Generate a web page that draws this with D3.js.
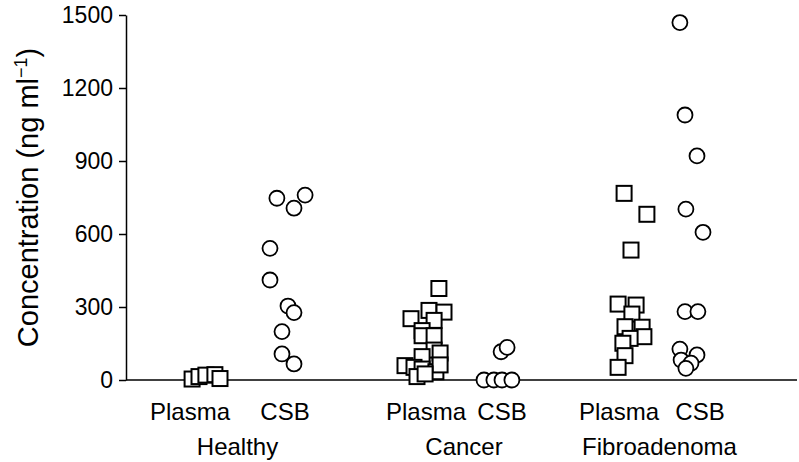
<!DOCTYPE html>
<html>
<head>
<meta charset="utf-8">
<script src="https://cdn.jsdelivr.net/npm/d3@7"></script>
<style>
  html, body { margin: 0; padding: 0; background: #fff; }
  svg { display: block; }
  text { font-family: "Liberation Sans", Arial, Helvetica, sans-serif; fill: #000; }
</style>
</head>
<body>
<svg id="chart" width="799" height="462"></svg>
<script>
// ---------- DATA ----------
const groups = ["Healthy", "Cancer", "Fibroadenoma"];
const sampleTypes = ["Plasma", "CSB"];
const yTicks = [0, 300, 600, 900, 1200, 1500];

// values (ng/ml) and horizontal jitter (in jitter units, -1..1)
const healthyPlasma       = [4, 14, 20, 22, 6];
const healthyPlasmaJitter = [0.07, 0.3, 0.53, 0.83, 1.0];

const healthyCSB       = [747, 760, 706, 541, 411, 304, 277, 199, 107, 66];
const healthyCSBJitter = [-0.27, 0.67, 0.3, -0.5, -0.5, 0.1, 0.3, -0.1, -0.1, 0.3];

const cancerPlasma       = [376, 252, 286, 279, 245, 203, 182, 182, 123, 111, 96, 59, 52, 45, 34, 62, 14, 25];
const cancerPlasmaJitter = [0.43, -0.5, 0.1, 0.6, 0.27, -0.13, -0.13, 0.27, 0.27, 0.47, -0.13, -0.7, -0.4, -0.13, 0.33, 0.47, -0.3, -0.03];

const cancerCSB       = [0, 0, 0, 0, 116, 134];
const cancerCSBJitter = [-0.6, -0.27, 0, 0.33, -0.03, 0.17];

const fibroPlasma       = [767, 681, 534, 312, 308, 271, 219, 217, 178, 171, 151, 100, 52];
const fibroPlasmaJitter = [0.17, 0.93, 0.4, -0.03, 0.57, 0.43, 0.2, 0.77, 0.83, 0.37, 0.13, 0.2, -0.03];

const fibroCSB       = [1469, 1089, 921, 702, 607, 281, 281, 127, 103, 82, 69, 48];
const fibroCSBJitter = [-0.67, -0.5, -0.1, -0.47, 0.1, -0.5, -0.07, -0.67, -0.1, -0.63, -0.3, -0.47];

// ---------- BUILD TABLE ----------
const seriesTable = [
  { group: "Healthy", type: "Plasma", values: healthyPlasma, jitter: healthyPlasmaJitter },
  { group: "Healthy", type: "CSB", values: healthyCSB, jitter: healthyCSBJitter },
  { group: "Cancer", type: "Plasma", values: cancerPlasma, jitter: cancerPlasmaJitter },
  { group: "Cancer", type: "CSB", values: cancerCSB, jitter: cancerCSBJitter },
  { group: "Fibroadenoma", type: "Plasma", values: fibroPlasma, jitter: fibroPlasmaJitter },
  { group: "Fibroadenoma", type: "CSB", values: fibroCSB, jitter: fibroCSBJitter }
];
const subKeys = seriesTable.map(s => s.group + "|" + s.type);
const points = [];
seriesTable.forEach(s => s.values.forEach((v, i) => points.push({ key: s.group + "|" + s.type, type: s.type, value: v, jitter: s.jitter[i] })));

// ---------- LAYOUT ----------
const svg = d3.select("#chart");
const axisX = 126, rightX = 797, y0 = 380, yTop = 15;

const y = d3.scaleLinear().domain([0, 1500]).range([y0, yTop]);
const xSub = d3.scaleOrdinal().domain(subKeys).range([190, 285, 426, 502, 619, 700]);
const xJit = d3.scaleLinear().domain([-1, 1]).range([-30, 30]);

// y axis
const yAxis = d3.axisLeft(y).tickValues(yTicks).tickFormat(d3.format("d"))
  .tickSize(7).tickPadding(6).tickSizeOuter(0);
const gy = svg.append("g").attr("transform", `translate(${axisX},0)`).call(yAxis);
gy.select(".domain").attr("stroke", "#000").attr("stroke-width", 1.5);
gy.selectAll(".tick line").attr("stroke", "#000").attr("stroke-width", 1.5);
gy.selectAll(".tick text").attr("font-size", 23).attr("font-family", "Liberation Sans, Arial, sans-serif").attr("fill", "#000");

// baseline
svg.append("line")
  .attr("x1", axisX).attr("x2", rightX)
  .attr("y1", y(0)).attr("y2", y(0))
  .attr("stroke", "#000").attr("stroke-width", 1.5);

// y label
const yl = svg.append("text")
  .attr("transform", `translate(38,${(y0 + yTop) / 2}) rotate(-90)`)
  .attr("text-anchor", "middle")
  .attr("font-size", 29);
yl.append("tspan").text("Concentration (ng ml");
yl.append("tspan").attr("font-size", 18).attr("dy", -11).text("\u22121");
yl.append("tspan").attr("dy", 11).text(")");

// markers
const sq = 15, r = 7.5;
const gm = svg.append("g");
points.forEach(p => {
  const cx = xSub(p.key) + xJit(p.jitter);
  const cy = y(p.value);
  if (p.type === "Plasma") {
    gm.append("rect")
      .attr("x", cx - sq / 2).attr("y", cy - sq / 2)
      .attr("width", sq).attr("height", sq)
      .attr("fill", "#fff").attr("stroke", "#000").attr("stroke-width", 2);
  } else {
    gm.append("circle")
      .attr("cx", cx).attr("cy", cy).attr("r", r)
      .attr("fill", "#fff").attr("stroke", "#000").attr("stroke-width", 1.8);
  }
});

// category labels
seriesTable.forEach(s => {
  svg.append("text")
    .attr("x", xSub(s.group + "|" + s.type)).attr("y", 420)
    .attr("text-anchor", "middle").attr("font-size", 24)
    .text(s.type);
});
groups.forEach(g => {
  const cx = d3.mean(sampleTypes, t => xSub(g + "|" + t));
  svg.append("text")
    .attr("x", cx).attr("y", 455)
    .attr("text-anchor", "middle").attr("font-size", 24)
    .text(g);
});
</script>
</body>
</html>
